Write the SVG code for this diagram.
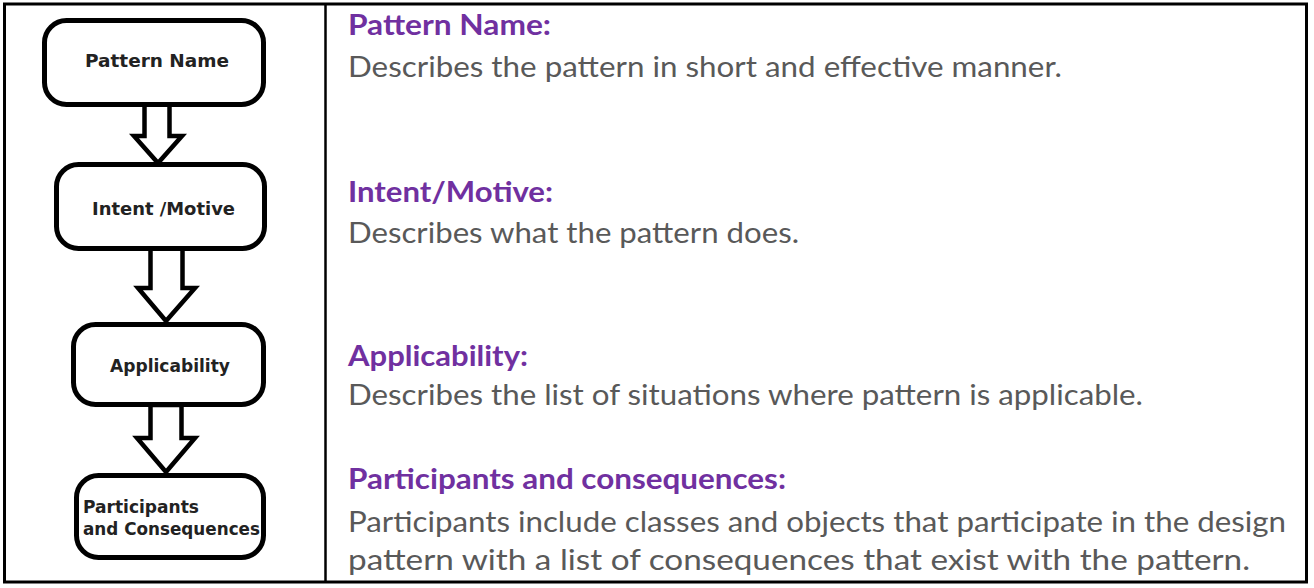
<svg xmlns="http://www.w3.org/2000/svg" width="1314" height="588" viewBox="0 0 1314 588">
<style>
.box{fill:#fff;stroke:#000;stroke-width:5}
.arr{fill:#fff;stroke:#000;stroke-width:4.5;stroke-linejoin:miter}
.lbl{font-family:"DejaVu Sans",sans-serif;font-weight:bold;font-size:17px;fill:#222}
.hd{font-family:Lato,"Open Sans",sans-serif;font-weight:bold;font-size:29px;fill:#7030A0}
.bd{font-family:Lato,"Open Sans",sans-serif;font-size:28px;fill:#595959}
</style>
<rect x="0" y="0" width="1314" height="588" fill="#fff"/>
<rect x="4.5" y="4" width="1302" height="578" fill="none" stroke="#000" stroke-width="3"/>
<line x1="325.5" y1="4" x2="325.5" y2="582" stroke="#000" stroke-width="2.5"/>

<g id="connectors">
<polygon class="arr" points="144.5,104 169.5,104 169.5,136 182,136 158,163 134,136 144.5,136"/>
<polygon class="arr" points="150.5,248 182.5,248 182.5,288 195,288 166,321 138,288 150.5,288"/>
<polygon class="arr" points="150.5,405 181.5,405 181.5,438 195,438 166,472 137,438 150.5,438"/>
</g>

<g id="node-pattern-name">
<rect class="box" x="44.5" y="20.5" width="219" height="84" rx="22"/>
<text class="lbl" x="85" y="67" textLength="144" lengthAdjust="spacingAndGlyphs">Pattern Name</text>
</g>
<g id="node-intent">
<rect class="box" x="56.5" y="164.5" width="208" height="84" rx="22"/>
<text class="lbl" x="92" y="215" textLength="143" lengthAdjust="spacingAndGlyphs">Intent /Motive</text>
</g>
<g id="node-applicability">
<rect class="box" x="73.5" y="324.5" width="190" height="80" rx="22"/>
<text class="lbl" x="110" y="372" textLength="120" lengthAdjust="spacingAndGlyphs">Applicability</text>
</g>
<g id="node-participants">
<rect class="box" x="76.5" y="475.5" width="187" height="82" rx="22"/>
<text class="lbl" x="83" y="513" textLength="116" lengthAdjust="spacingAndGlyphs">Participants</text>
<text class="lbl" x="83" y="535" textLength="177" lengthAdjust="spacingAndGlyphs">and Consequences</text>
</g>

<g id="desc-pattern-name">
<text class="hd" x="348" y="35" textLength="203" lengthAdjust="spacingAndGlyphs">Pattern Name:</text>
<text class="bd" x="348" y="77" textLength="714" lengthAdjust="spacingAndGlyphs">Describes the pattern in short and effective manner.</text>
</g>
<g id="desc-intent">
<text class="hd" x="348" y="202" textLength="205" lengthAdjust="spacingAndGlyphs">Intent/Motive:</text>
<text class="bd" x="348" y="243" textLength="451" lengthAdjust="spacingAndGlyphs">Describes what the pattern does.</text>
</g>
<g id="desc-applicability">
<text class="hd" x="348" y="366" textLength="180" lengthAdjust="spacingAndGlyphs">Applicability:</text>
<text class="bd" x="348" y="405" textLength="795" lengthAdjust="spacingAndGlyphs">Describes the list of situations where pattern is applicable.</text>
</g>
<g id="desc-participants">
<text class="hd" x="348" y="489" textLength="438" lengthAdjust="spacingAndGlyphs">Participants and consequences:</text>
<text class="bd" x="348" y="532" textLength="938" lengthAdjust="spacingAndGlyphs">Participants include classes and objects that participate in the design</text>
<text class="bd" x="348" y="570" textLength="902" lengthAdjust="spacingAndGlyphs">pattern with a list of consequences that exist with the pattern.</text>
</g>
</svg>
